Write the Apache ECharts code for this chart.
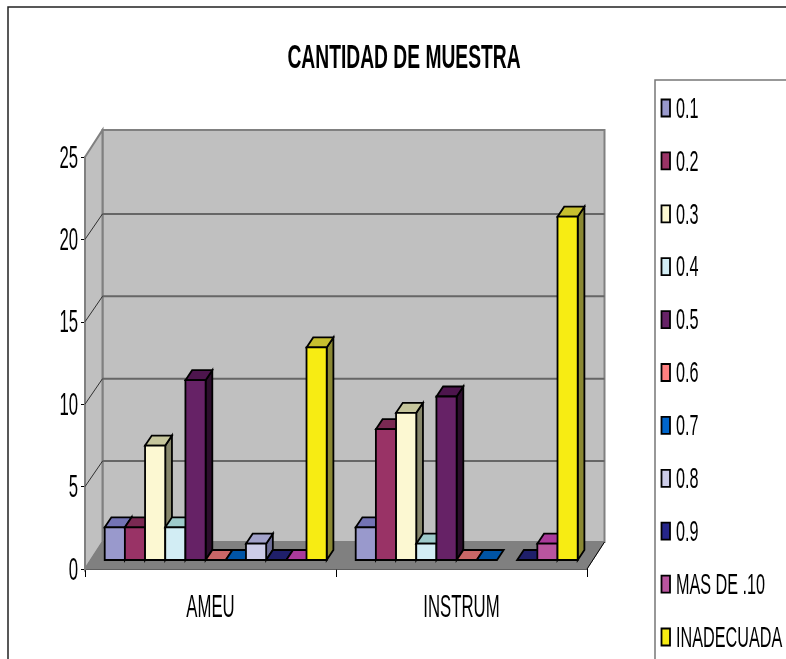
<!DOCTYPE html>
<html><head><meta charset="utf-8">
<style>html,body{margin:0;padding:0;background:#fff}#c{width:786px;height:659px}</style>
<script src="https://cdn.jsdelivr.net/npm/echarts@6/dist/echarts.min.js"></script>
</head><body><div id="c"></div>
<script>
const titleText = 'CANTIDAD DE MUESTRA';
const categories = ['AMEU', 'INSTRUM'];
const seriesNames = ['0.1','0.2','0.3','0.4','0.5','0.6','0.7','0.8','0.9','MAS DE .10','INADECUADA'];
const v01 = [2, 2];
const v02 = [2, 8];
const v03 = [7, 9];
const v04 = [2, 1];
const v05 = [11, 10];
const v06 = [0, 0];
const v07 = [0, 0];
const v08 = [1, null];
const v09 = [0, 0];
const v10 = [0, 1];
const v11 = [13, 21];
const seriesValues = [v01,v02,v03,v04,v05,v06,v07,v08,v09,v10,v11];
const yTicks = [0, 5, 10, 15, 20, 25];
const frontColors = ['#9999cc','#993366','#fcf8d2','#d2edf4','#662266','#ff8080','#0066cc','#cccce8','#26268a','#b9559f','#f7ec13'];
const topColors   = ['#7373b4','#7a2952','#c6c69c','#9ecaca','#4d154d','#c96666','#0054a5','#a2a2ca','#1f1f6a','#aa3a9a','#c7bf2f'];
const sideColors  = ['#66668f','#5a2a45','#87876b','#7a9090','#2c0d2c','#8a4a4a','#003a70','#6d6d96','#14144a','#702a66','#8a8833'];
const yMax = 25, yStep = 5;

const DX = 17.5, DY = -27;
const BX = 5.2, BY = -9;
const DBX = 6.7, DBY = -10;
const BAR_FRAC = 0.0804;
const BAR_H = 0.992;
const LW = 1.8;
const font = '"Liberation Sans",Arial,sans-serif';
const SQ = 0.54;

function poly(pts, fill, stroke, lw){
  return {type:'polygon', shape:{points:pts}, style:{fill, stroke, lineWidth:lw, lineJoin:'miter'}};
}
function label(text, x, y, align, size, scale, weight){
  return {type:'text', x, y, scaleX:scale, silent:true,
    style:{text, x:0, y:0, align, verticalAlign:'middle', fill:'#000',
      font:(weight||'normal')+' '+size+'px '+font}};
}
function wallsItem(params, api){
  const p00 = api.coord([0, 0]);
  const sz = api.size([1, 0])[0];
  const xL = p00[0] - sz/2, xR = xL + sz*categories.length;
  const y0 = p00[1], yT = api.coord([0, yMax])[1];
  const ch = [];
  ch.push(poly([[xL+DX,yT+DY],[xR+DX,yT+DY],[xR+DX,y0+DY],[xL+DX,y0+DY]],'#c0c0c0','#808080',2));
  ch.push(poly([[xL,yT],[xL+DX,yT+DY],[xL+DX,y0+DY],[xL,y0]],'#c0c0c0','#808080',2));
  ch.push(poly([[xL,y0],[xL+DX,y0+DY],[xR+DX,y0+DY],[xR,y0]],'#808080','#808080',1));
  for(let t=yStep;t<yMax;t+=yStep){
    const y = api.coord([0,t])[1];
    ch.push({type:'line',shape:{x1:xL+DX,y1:y+DY+1.5,x2:xR+DX,y2:y+DY+1.5},style:{stroke:'#666',lineWidth:2}});
    ch.push({type:'line',shape:{x1:xL,y1:y,x2:xL+DX,y2:y+DY+1.5},style:{stroke:'#303030',lineWidth:1}});
  }
  ch.push({type:'line',shape:{x1:xR,y1:y0,x2:xR+DX,y2:y0+DY},style:{stroke:'#000',lineWidth:1}});
  return {type:'group',children:ch};
}
function barItem(si){
  return function(params, api){
    const v = api.value(1);
    if(v === null || v === undefined || isNaN(v)) return null;
    const p = api.coord([api.value(0), v]);
    const b = api.coord([api.value(0), 0]);
    const w = api.size([1,0])[0]*BAR_FRAC;
    const n = seriesNames.length;
    const x0 = p[0] - n*w/2 + si*w + BX, x1 = x0 + w;
    const yB = b[1] + BY, yT = yB + (p[1]-b[1])*BAR_H;
    const ch = [];
    if(v>0){
      ch.push(poly([[x1,yT],[x1+DBX,yT+DBY],[x1+DBX,yB+DBY],[x1,yB]],sideColors[si],'#000',LW));
    }
    ch.push(poly([[x0,yT],[x0+DBX,yT+DBY],[x1+DBX,yT+DBY],[x1,yT]],topColors[si],'#000',LW));
    ch.push(poly([[x0,yT],[x1,yT],[x1,yB],[x0,yB]],frontColors[si],'#000',LW));
    return {type:'group',children:ch};
  };
}
const series = [{
  type:'custom', name:'walls', silent:true, z:1, clip:false,
  data:[[categories[0],0]], encode:{x:0,y:1}, renderItem:wallsItem
}];
seriesNames.forEach((name,si)=>{
  series.push({
    type:'custom', name, z:2+si, clip:false,
    itemStyle:{color:frontColors[si],borderColor:'#000',borderWidth:1.5},
    data:categories.map((c,ci)=>[c,seriesValues[si][ci]]),
    encode:{x:0,y:1}, renderItem:barItem(si)
  });
});
series.push({
  type:'custom', name:'xLabels', silent:true, z:20, clip:false,
  data:categories.map(c=>[c,0]), encode:{x:0,y:1},
  renderItem:(params,api)=>{
    const p = api.coord([api.value(0),0]);
    return label(categories[params.dataIndex], p[0], p[1]+39, 'center', 31, SQ);
  }
});
series.push({
  type:'custom', name:'yLabels', silent:true, z:20, clip:false,
  data:yTicks.map(t=>[categories[0],t]), encode:{x:0,y:1},
  renderItem:(params,api)=>{
    const p = api.coord([api.value(0),api.value(1)]);
    const xL = p[0]-api.size([1,0])[0]/2;
    return label(String(api.value(1)), xL-7, p[1]+2, 'right', 31, SQ);
  }
});
const legendTop = 108, legendStep = 52.9;
const legendGraphics = [];
seriesNames.forEach((name,i)=>{
  const cy = legendTop + legendStep*i;
  legendGraphics.push({type:'rect',shape:{x:661.5,y:cy-8.5,width:8.5,height:17},
    style:{fill:frontColors[i],stroke:'#000',lineWidth:1.8},silent:true,z:30});
  legendGraphics.push(Object.assign(label(name,676,cy+1.5,'left',30,SQ),{z:30}));
});
const chart = echarts.init(document.getElementById('c'));
chart.setOption({
  animation:false,
  backgroundColor:'#fff',
  grid:{left:85,right:199,top:157,bottom:90},
  legend:{show:false},
  xAxis:{type:'category',data:categories,
    axisLine:{lineStyle:{color:'#000',width:1.5}},
    axisTick:{show:true,length:8,lineStyle:{color:'#000',width:1}},
    axisLabel:{show:false}},
  yAxis:{type:'value',min:0,max:yMax,interval:yStep,
    axisLine:{show:true,lineStyle:{color:'#000',width:1.5}},
    axisTick:{show:true,length:4,lineStyle:{color:'#000',width:1}},
    splitLine:{show:false},
    axisLabel:{show:false}},
  graphic:[
    {type:'rect',shape:{x:8,y:7,width:900,height:800},style:{fill:'none',stroke:'#222',lineWidth:1.5},silent:true,z:-1},
    {type:'rect',shape:{x:655,y:80,width:300,height:800},style:{fill:'none',stroke:'#777',lineWidth:1.5},silent:true,z:-1},
    Object.assign(label(titleText,404,58.5,'center',34,0.566,'bold'),{z:30})
  ].concat(legendGraphics),
  series
});
</script></body></html>
